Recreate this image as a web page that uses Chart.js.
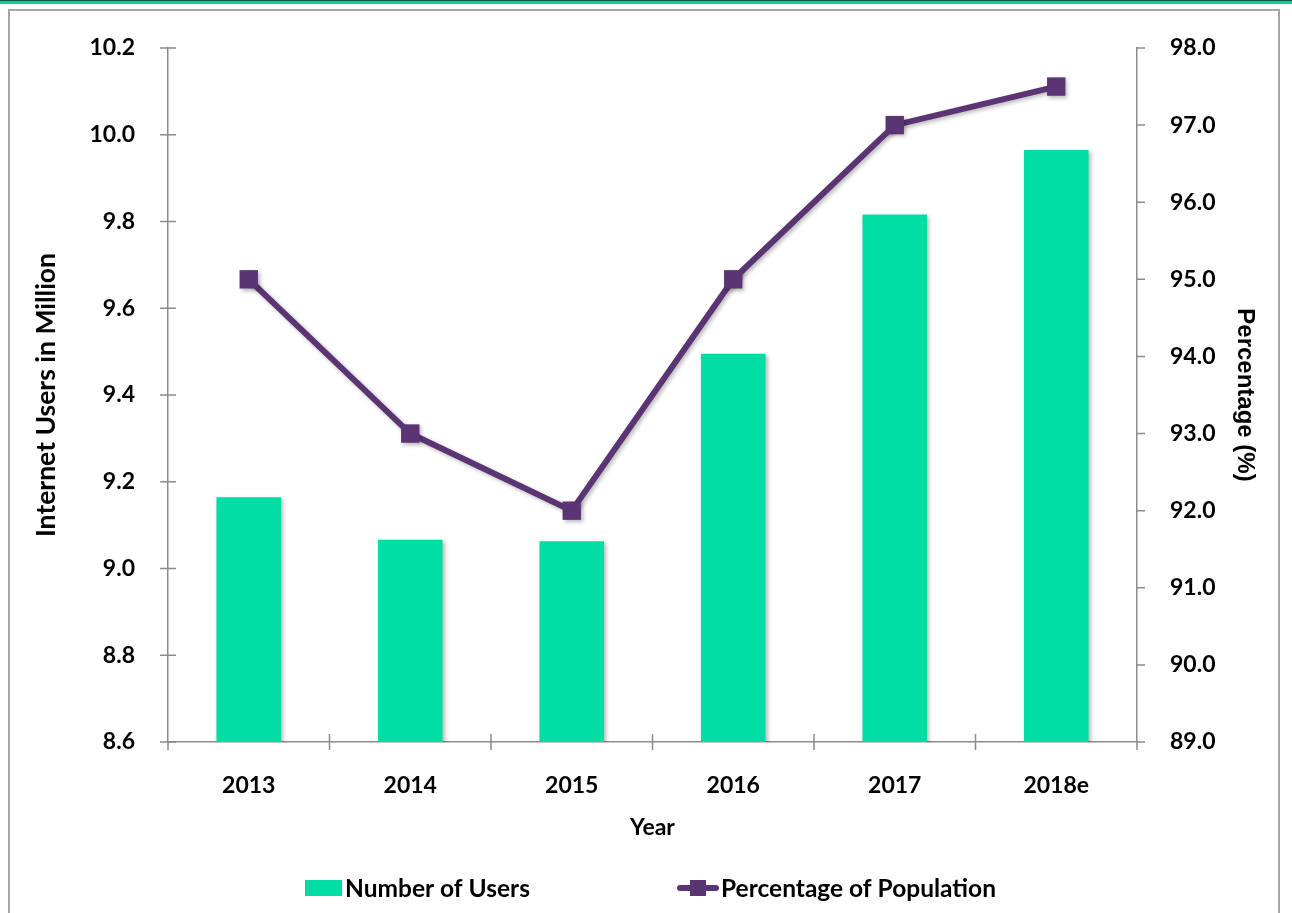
<!DOCTYPE html>
<html>
<head>
<meta charset="utf-8">
<script src="https://cdn.jsdelivr.net/npm/chart.js@4.4.1/dist/chart.umd.min.js"></script>
<style>
  html, body { margin: 0; padding: 0; background: #fff; overflow: hidden; }
  #wrap { position: relative; width: 1292px; height: 913px; }
  #topbar { position: absolute; left: 0; top: 0; width: 1292px; height: 3px; background: #00d39c; border-top: 1px solid #14583f; }
  #frame { position: absolute; left: 8px; top: 9px; width: 1268px; height: 1000px; border: 2px solid #a6a6a6; pointer-events: none; }
  canvas { position: absolute; left: 0; top: 0; }
</style>
</head>
<body>
<div id="wrap">
  <canvas id="myChart" width="1292" height="913"></canvas>
  <div id="topbar"></div>
  <div id="frame"></div>
</div>
<script>
const years = ['2013', '2014', '2015', '2016', '2017', '2018e'];
const users = [9.164, 9.066, 9.063, 9.495, 9.816, 9.965];
const percentage = [95.0, 93.0, 92.0, 95.0, 97.0, 97.5];

const barColor = '#00dea6';
const lineColor = '#5b3473';
const axisColor = '#8c8c8c';
const labelFont = { family: 'Lato', weight: 'bold', size: 23 };

// tick marks that cross the axis lines, like the original spreadsheet chart
const axisTicks = {
  id: 'axisTicks',
  afterDraw(chart) {
    const ctx = chart.ctx;
    const area = chart.chartArea;
    const x = chart.scales.x, yl = chart.scales.y, yr = chart.scales.y1;
    ctx.save();
    ctx.strokeStyle = axisColor;
    ctx.lineWidth = 1.5;
    ctx.beginPath();
    yl.ticks.forEach(t => {
      const py = yl.getPixelForValue(t.value);
      ctx.moveTo(area.left - 8, py); ctx.lineTo(area.left + 8, py);
    });
    yr.ticks.forEach(t => {
      const py = yr.getPixelForValue(t.value);
      ctx.moveTo(area.right, py); ctx.lineTo(area.right + 8, py);
    });
    ctx.moveTo(area.left, area.bottom); ctx.lineTo(area.left, area.bottom + 8);
    ctx.moveTo(area.right, area.bottom); ctx.lineTo(area.right, area.bottom + 8);
    for (let i = 1; i < years.length; i++) {
      const px = (x.getPixelForValue(i - 1) + x.getPixelForValue(i)) / 2;
      ctx.moveTo(px, area.bottom - 8); ctx.lineTo(px, area.bottom + 8);
    }
    ctx.stroke();
    ctx.restore();
  }
};

// soft drop shadow under bars and the line
const shadows = {
  id: 'shadows',
  beforeDatasetDraw(chart) {
    const ctx = chart.ctx;
    ctx.save();
    ctx.shadowColor = 'rgba(0,0,0,0.28)';
    ctx.shadowBlur = 4;
    ctx.shadowOffsetX = 2;
    ctx.shadowOffsetY = 2;
  },
  afterDatasetDraw(chart) {
    chart.ctx.restore();
  }
};

// legend row under the x axis title
const bottomLegend = {
  id: 'bottomLegend',
  afterDraw(chart) {
    const ctx = chart.ctx;
    const cy = 888;
    ctx.save();
    ctx.font = 'bold 24.5px Lato';
    ctx.textBaseline = 'middle';

    ctx.fillStyle = barColor;
    ctx.fillRect(305, cy - 8, 37, 16);
    ctx.fillStyle = '#000';
    ctx.fillText(chart.data.datasets[1].label, 345, cy + 1);

    ctx.strokeStyle = lineColor;
    ctx.lineWidth = 6;
    ctx.lineCap = 'round';
    ctx.beginPath();
    ctx.moveTo(680, cy); ctx.lineTo(716, cy);
    ctx.stroke();
    ctx.fillStyle = lineColor;
    ctx.fillRect(690, cy - 8, 16, 16);
    ctx.fillStyle = '#000';
    ctx.fillText(chart.data.datasets[0].label, 721, cy + 1);
    ctx.restore();
  }
};

const ctx = document.getElementById('myChart');
new Chart(ctx, {
  data: {
    labels: years,
    datasets: [
      {
        type: 'line',
        label: 'Percentage of Population',
        data: percentage,
        yAxisID: 'y1',
        borderColor: lineColor,
        backgroundColor: lineColor,
        borderWidth: 6,
        pointStyle: 'rect',
        pointRadius: 13,
        pointHoverRadius: 13,
        pointBorderWidth: 0,
        tension: 0,
        order: 0
      },
      {
        type: 'bar',
        label: 'Number of Users',
        data: users,
        yAxisID: 'y',
        backgroundColor: barColor,
        barPercentage: 0.4,
        categoryPercentage: 1.0,
        order: 1
      }
    ]
  },
  plugins: [axisTicks, shadows, bottomLegend],
  options: {
    responsive: false,
    animation: false,
    events: [],
    layout: { padding: { top: 48, left: 0, right: 0, bottom: 0 } },
    plugins: {
      legend: { display: false },
      tooltip: { enabled: false }
    },
    scales: {
      x: {
        offset: true,
        grid: { display: false },
        border: { display: true, color: axisColor, width: 1.5 },
        ticks: { color: '#000', font: labelFont, padding: 22 },
        title: {
          display: true,
          text: 'Year',
          color: '#000',
          font: labelFont,
          padding: { top: 0, bottom: 72 }
        },
        afterFit(scale) { scale.height = 171; }
      },
      y: {
        position: 'left',
        min: 8.6,
        max: 10.2,
        grid: { display: false },
        border: { display: true, color: axisColor, width: 1.5 },
        ticks: {
          stepSize: 0.2,
          color: '#000',
          font: labelFont,
          padding: 25,
          callback: v => Number(v).toFixed(1)
        },
        title: {
          display: true,
          text: 'Internet Users in Million',
          color: '#000',
          font: { family: 'Lato', weight: 'bold', size: 26.5 },
          padding: { top: 31, bottom: 0 }
        },
        afterFit(scale) { scale.width = 168; }
      },
      y1: {
        position: 'right',
        min: 89,
        max: 98,
        grid: { display: false },
        border: { display: true, color: axisColor, width: 1.5 },
        ticks: {
          stepSize: 1,
          color: '#000',
          font: labelFont,
          padding: 25,
          callback: v => Number(v).toFixed(1)
        },
        title: {
          display: true,
          text: 'Percentage (%)',
          color: '#000',
          font: { family: 'Liberation Sans', weight: 'bold', size: 24 },
          padding: { top: 33, bottom: 0 }
        },
        afterFit(scale) { scale.width = 155; }
      }
    }
  }
});
</script>
</body>
</html>
